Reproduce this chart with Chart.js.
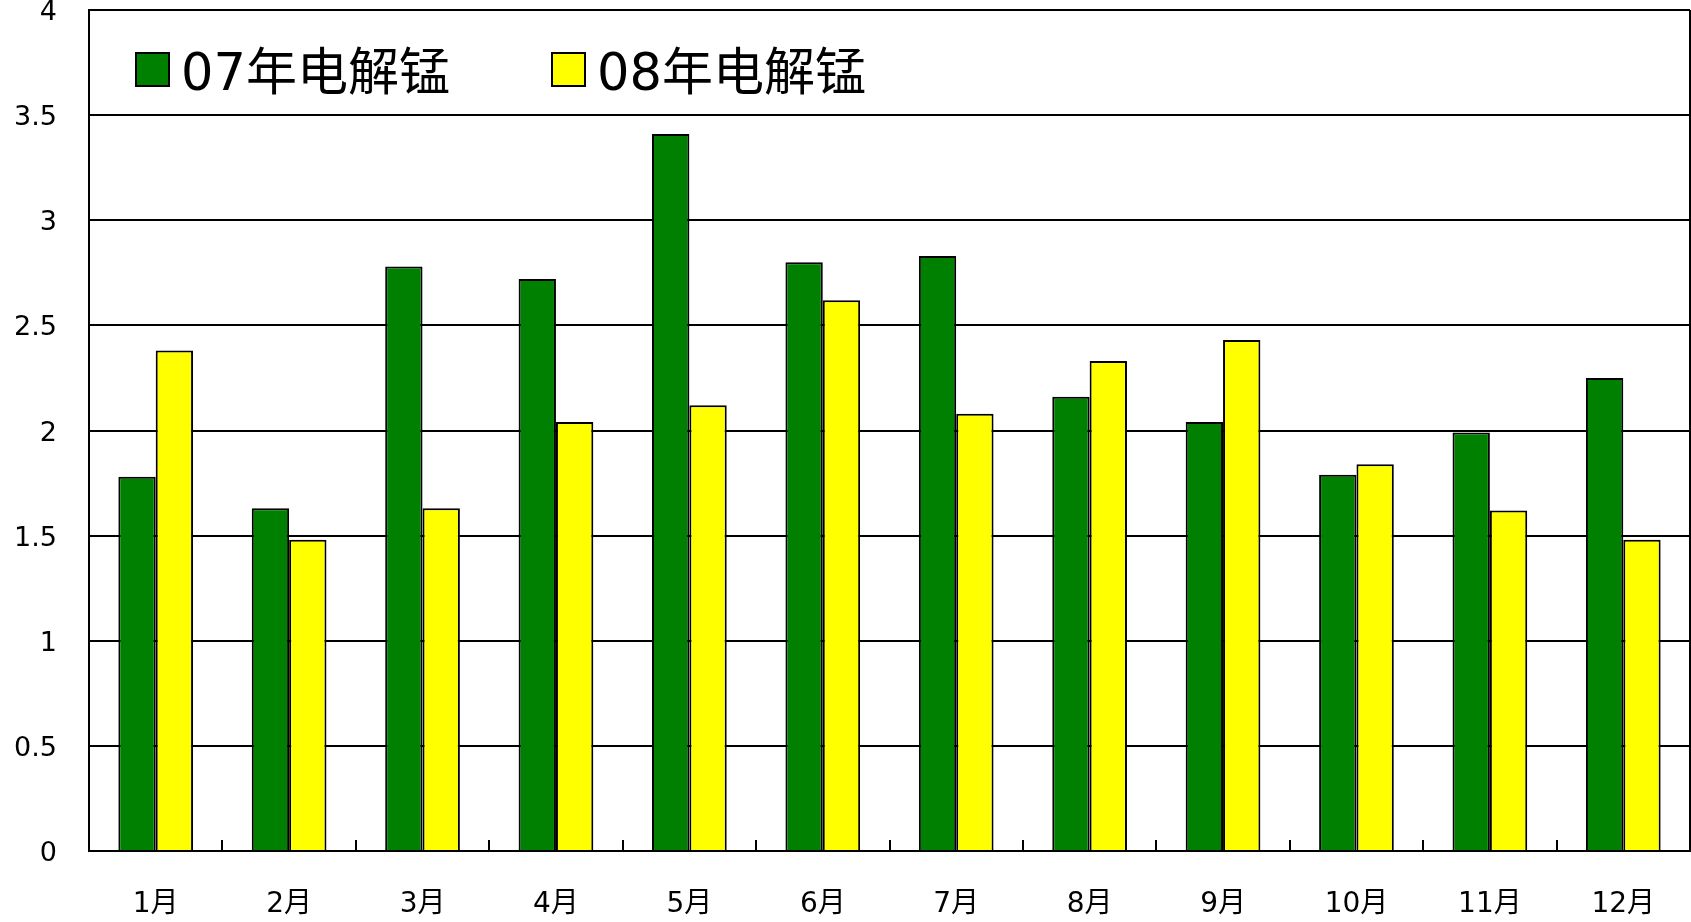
<!DOCTYPE html>
<html>
<head>
<meta charset="utf-8">
<script src="https://cdn.jsdelivr.net/npm/chart.js@4/dist/chart.umd.min.js"></script>
<style>
  html, body { margin: 0; padding: 0; background: #fff; }
  canvas { display: block; }
</style>
</head>
<body>
<canvas id="c" width="1691" height="922"></canvas>
<script>
const categories = ['1月','2月','3月','4月','5月','6月','7月','8月','9月','10月','11月','12月'];
const series07 = [1.78, 1.63, 2.78, 2.72, 3.41, 2.80, 2.83, 2.16, 2.04, 1.79, 1.99, 2.25];
const series08 = [2.38, 1.48, 1.63, 2.04, 2.12, 2.62, 2.08, 2.33, 2.43, 1.84, 1.62, 1.48];
const seriesNames = ['07年电解锰', '08年电解锰'];
const seriesColors = ['#008000', '#FFFF00'];

const FONT = "'DejaVu Sans', 'Noto Sans CJK SC', sans-serif";

const framePlugin = {
  id: 'frame',
  afterDraw(chart) {
    const { ctx, chartArea } = chart;
    ctx.save();
    ctx.strokeStyle = '#000';
    ctx.lineWidth = 2;
    ctx.beginPath();
    ctx.moveTo(chartArea.right, chartArea.top);
    ctx.lineTo(chartArea.right, chartArea.bottom);
    ctx.stroke();
    ctx.restore();
  }
};

const legendPlugin = {
  id: 'innerLegend',
  afterDraw(chart) {
    const { ctx, chartArea } = chart;
    const starts = [47, 463];
    ctx.save();
    chart.data.datasets.forEach((ds, i) => {
      const bx = chartArea.left + starts[i];
      const by = 53;
      ctx.fillStyle = ds.backgroundColor;
      ctx.fillRect(bx, by, 33, 33);
      ctx.strokeStyle = '#000';
      ctx.lineWidth = 2;
      ctx.strokeRect(bx, by, 33, 33);
      ctx.fillStyle = '#000';
      ctx.font = '51px ' + FONT;
      ctx.textBaseline = 'alphabetic';
      ctx.textAlign = 'left';
      ctx.fillText(ds.label, bx + 45, 90);
    });
    ctx.restore();
  }
};

new Chart(document.getElementById('c'), {
  type: 'bar',
  data: {
    labels: categories,
    datasets: [
      { label: seriesNames[0], data: series07, backgroundColor: seriesColors[0], borderColor: '#000', borderWidth: 2 },
      { label: seriesNames[1], data: series08, backgroundColor: seriesColors[1], borderColor: '#000', borderWidth: 2 }
    ]
  },
  options: {
    responsive: false,
    devicePixelRatio: 1,
    animation: false,
    events: [],
    layout: { padding: { top: 10, right: 1, left: 0, bottom: 0 } },
    datasets: { bar: { categoryPercentage: 0.56, barPercentage: 1.0 } },
    plugins: { legend: { display: false }, tooltip: { enabled: false } },
    scales: {
      x: {
        grid: { display: true, drawOnChartArea: false, drawTicks: true, tickLength: -11, color: '#000', lineWidth: 2 },
        border: { display: true, color: '#000', width: 2 },
        ticks: { color: '#000', font: { family: FONT, size: 28 }, padding: 48, maxRotation: 0 },
        afterFit(scale) { scale.height = 71; scale.paddingLeft = 0; scale.paddingRight = 0; }
      },
      y: {
        min: 0, max: 4,
        grid: { color: '#000', lineWidth: 2, drawTicks: false },
        border: { display: true, color: '#000', width: 2 },
        ticks: {
          stepSize: 0.5, color: '#000', font: { family: FONT, size: 27 }, padding: 32, labelOffset: 3,
          callback: (v) => String(Number(v))
        },
        afterFit(scale) { scale.width = 89; scale.paddingTop = 0; scale.paddingBottom = 0; }
      }
    }
  },
  plugins: [framePlugin, legendPlugin]
});
</script>
</body>
</html>
